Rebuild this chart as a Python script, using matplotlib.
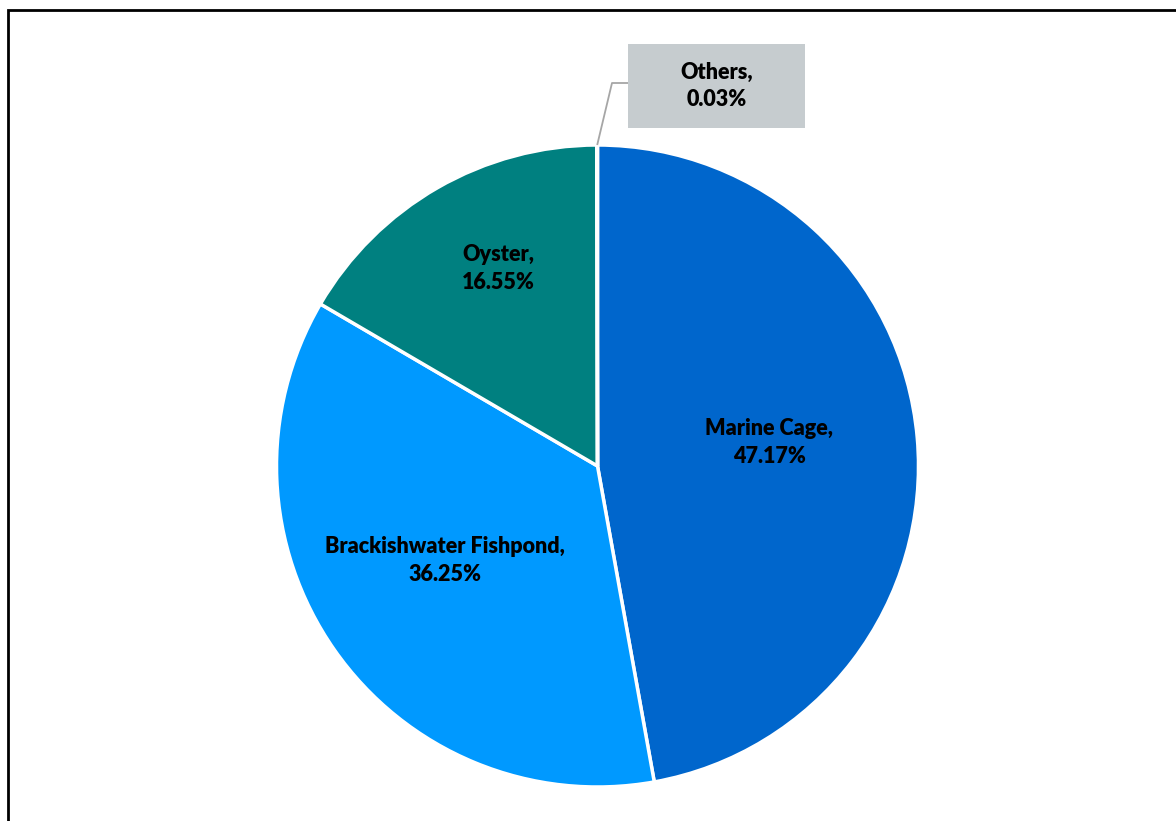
import numpy as np
import matplotlib.pyplot as plt
from matplotlib.patches import Rectangle

# data
categories = ['Marine Cage', 'Brackishwater Fishpond', 'Oyster', 'Others']
shares = [47.17, 36.25, 16.55, 0.03]
colors = ['#0066CC', '#0099FF', '#008080', '#A5A5A5']

plt.rcParams['font.family'] = ['Lato', 'DejaVu Sans']

fig = plt.figure(figsize=(11.76, 8.21), dpi=100)
ax = fig.add_axes([0, 0, 1, 1])

cx, cy, R = 597.5, 821 - 466, 321
wedges, _ = ax.pie(shares, colors=colors, startangle=90, counterclock=False,
                   center=(cx, cy), radius=R,
                   wedgeprops=dict(edgecolor='white', linewidth=2.5))
ax.set_xlim(0, 1176)
ax.set_ylim(0, 821)
ax.set_aspect('equal')
ax.axis('off')

# label placement: radius fraction and angle tweak (deg) per slice
label_r = [0.54, 0.56, 0.69]
label_da = [2.6, -3.2, -3.2]
for i in range(3):
    w = wedges[i]
    mid = np.deg2rad((w.theta1 + w.theta2) / 2 + label_da[i])
    x = cx + label_r[i] * R * np.cos(mid)
    y = cy + label_r[i] * R * np.sin(mid)
    ax.text(x, y, f'{categories[i]},\n{shares[i]:.2f}%', ha='center', va='center',
            fontsize=15.5, fontweight='heavy', color='black', linespacing=1.4)

# Others callout
w = wedges[3]
mid = np.deg2rad((w.theta1 + w.theta2) / 2)
px, py = cx + R * np.cos(mid), cy + R * np.sin(mid)
bx0, by0, bw, bh = 628, 821 - 128, 177, 84
ax.plot([px, 612, bx0], [py, 821 - 83, 821 - 83], color='#A6A6A6', lw=1.3,
        solid_capstyle='butt')
ax.add_patch(Rectangle((bx0, by0), bw, bh, facecolor='#C6CCCF', edgecolor='none'))
ax.text(bx0 + bw / 2, by0 + bh / 2, f'{categories[3]},\n{shares[3]:.2f}%',
        ha='center', va='center', fontsize=15.5, fontweight='heavy', color='black',
        linespacing=1.4)

# chart frame (left and top visible)
ax.plot([7.5, 7.5, 1176], [0, 821 - 9.5, 821 - 9.5], color='black', lw=2,
        solid_joinstyle='miter')

fig.savefig('out.png', dpi=100)
